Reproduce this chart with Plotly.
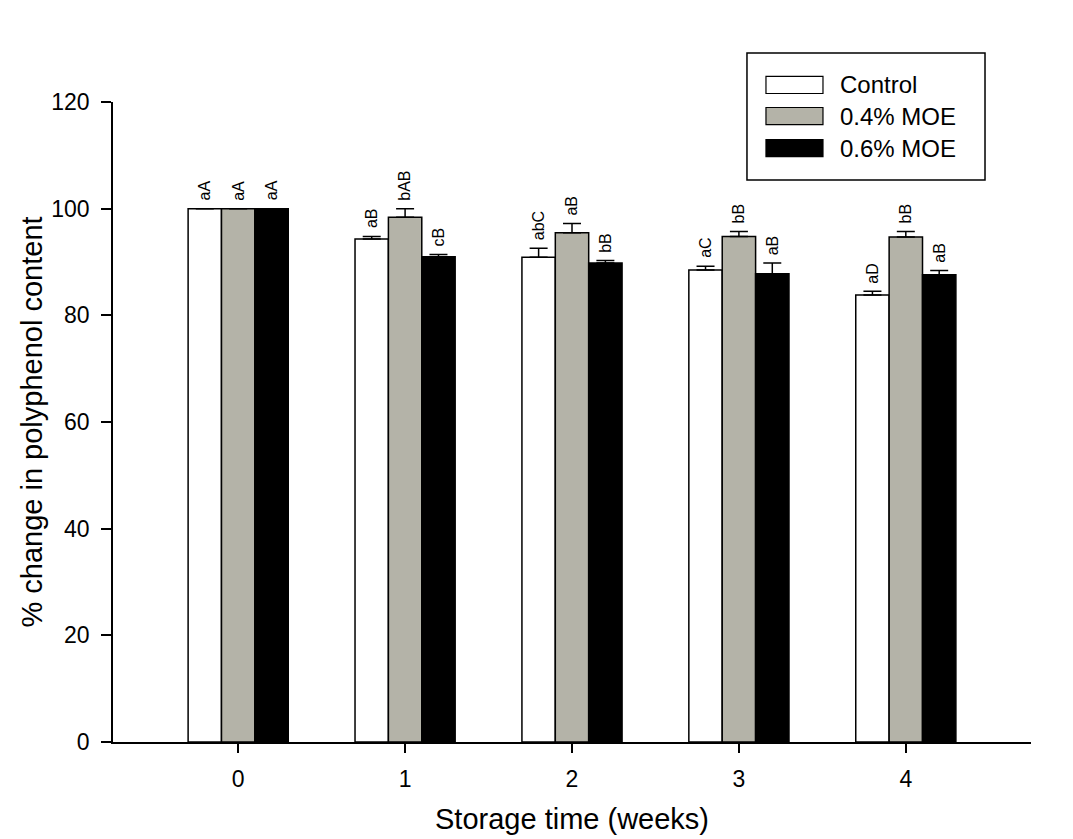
import plotly.graph_objects as go

# Storage time (weeks) and treatment groups
weeks = [0, 1, 2, 3, 4]
series_names = ["Control", "0.4% MOE", "0.6% MOE"]
series_colors = ["#FFFFFF", "#B4B3A8", "#000000"]

# % change in polyphenol content (mean) and SE
control_vals = [100.0, 94.3, 90.9, 88.5, 83.8]
moe04_vals = [100.0, 98.4, 95.5, 94.8, 94.7]
moe06_vals = [100.0, 91.0, 89.8, 87.8, 87.6]

control_err = [0.0, 0.5, 1.7, 0.7, 0.7]
moe04_err = [0.0, 1.6, 1.7, 0.9, 1.0]
moe06_err = [0.0, 0.4, 0.5, 2.0, 0.8]

# Significance letters
control_labels = ["aA", "aB", "abC", "aC", "aD"]
moe04_labels = ["aA", "bAB", "aB", "bB", "bB"]
moe06_labels = ["aA", "cB", "bB", "aB", "aB"]

values = [control_vals, moe04_vals, moe06_vals]
errors = [control_err, moe04_err, moe06_err]
labels = [control_labels, moe04_labels, moe06_labels]

FONT = "Liberation Sans, Arial, sans-serif"
BAR_W = 0.2
offsets = [-BAR_W, 0.0, BAR_W]

fig = go.Figure()
for name, color, vals, errs in zip(series_names, series_colors, values, errors):
    fig.add_trace(go.Bar(
        x=weeks, y=vals, name=name,
        marker=dict(color=color, line=dict(color="black", width=1.5)),
        error_y=dict(type="data", array=errs, arrayminus=[0] * len(errs),
                     symmetric=False, color="black", thickness=1.5, width=9),
        showlegend=False,
    ))

# letters above each bar
for off, vals, errs, labs in zip(offsets, values, errors, labels):
    for w, v, e, lab in zip(weeks, vals, errs, labs):
        fig.add_annotation(
            x=w + off, y=v + e, xref="x", yref="y", text=lab,
            textangle=-90, showarrow=False, xanchor="center", yanchor="bottom",
            yshift=6, font=dict(family=FONT, size=16, color="black"),
        )

# legend box
fig.add_shape(type="rect", xref="paper", yref="paper",
              x0=0.6906, x1=0.9499, y0=0.878, y1=1.0766,
              line=dict(color="black", width=1.5), fillcolor="white")
row_centers = [1.0266, 0.9781, 0.9281]
for name, color, yc in zip(series_names, series_colors, row_centers):
    fig.add_shape(type="rect", xref="paper", yref="paper",
                  x0=0.7113, x1=0.7734, y0=yc - 0.0133, y1=yc + 0.0133,
                  line=dict(color="black", width=1.2), fillcolor=color)
    fig.add_annotation(x=0.7898, y=yc, xref="paper", yref="paper", text=name,
                       showarrow=False, xanchor="left", yanchor="middle",
                       font=dict(family=FONT, size=24, color="black"))

fig.update_layout(
    width=1073, height=839,
    margin=dict(l=113, r=42, t=102, b=97),
    paper_bgcolor="white", plot_bgcolor="white",
    barmode="group", bargap=0.4, bargroupgap=0.0,
    font=dict(family=FONT, size=23, color="black"),
)
fig.update_xaxes(
    range=[-0.75, 4.75], tickmode="array", tickvals=weeks,
    ticktext=[str(w) for w in weeks], automargin=False,
    showline=True, linecolor="black", linewidth=1.5,
    ticks="outside", ticklen=9, tickwidth=1.5, tickcolor="black",
    ticklabelstandoff=7,
    showgrid=False, zeroline=False,
    tickfont=dict(family=FONT, size=23),
    title=dict(text="Storage time (weeks)", font=dict(family=FONT, size=29), standoff=17),
)
fig.update_yaxes(
    range=[0, 120], dtick=20, tick0=0, automargin=False,
    showline=True, linecolor="black", linewidth=1.5,
    ticks="outside", ticklen=10, tickwidth=1.5, tickcolor="black",
    ticklabelstandoff=7,
    showgrid=False, zeroline=False,
    tickfont=dict(family=FONT, size=23),
    title=dict(text="% change in polyphenol content", font=dict(family=FONT, size=29), standoff=0),
)

fig.write_html("out.html")
